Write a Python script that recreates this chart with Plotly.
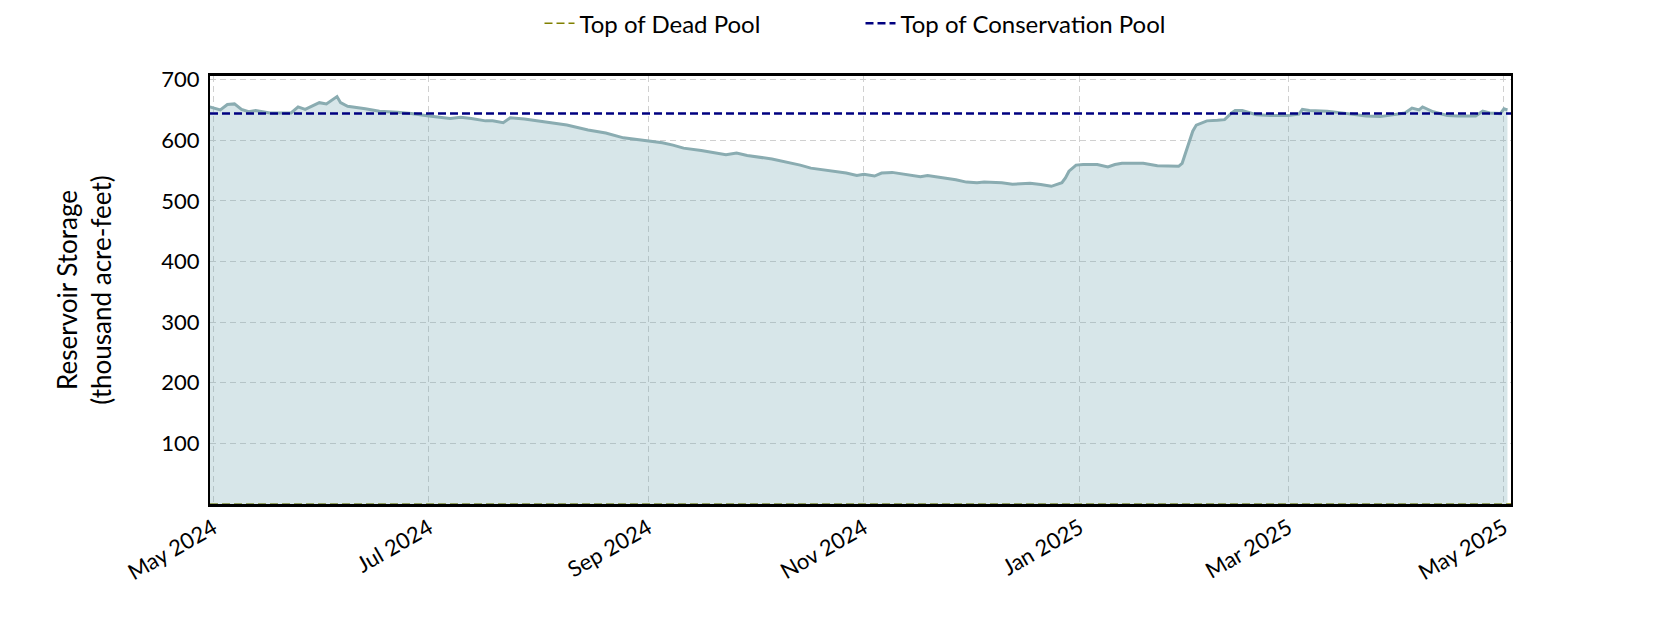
import plotly.graph_objects as go

# daily storage (thousand acre-feet)
dates = [
    '2024-04-30', '2024-05-03', '2024-05-05', '2024-05-07', '2024-05-09', '2024-05-11',
    '2024-05-13', '2024-05-17', '2024-05-23', '2024-05-25', '2024-05-27', '2024-05-29',
    '2024-05-31', '2024-06-02', '2024-06-05', '2024-06-06', '2024-06-08', '2024-06-13',
    '2024-06-17', '2024-06-22', '2024-06-26', '2024-07-01', '2024-07-07', '2024-07-10',
    '2024-07-13', '2024-07-17', '2024-07-19', '2024-07-22', '2024-07-24', '2024-07-28',
    '2024-08-03', '2024-08-09', '2024-08-15', '2024-08-20', '2024-08-25', '2024-08-30',
    '2024-09-05', '2024-09-08', '2024-09-11', '2024-09-16', '2024-09-23', '2024-09-26',
    '2024-09-29', '2024-10-06', '2024-10-13', '2024-10-14', '2024-10-17', '2024-10-22',
    '2024-10-27', '2024-10-30', '2024-11-01', '2024-11-04', '2024-11-06', '2024-11-09',
    '2024-11-13', '2024-11-17', '2024-11-19', '2024-11-25', '2024-11-27', '2024-11-30',
    '2024-12-03', '2024-12-05', '2024-12-10', '2024-12-13', '2024-12-18', '2024-12-21',
    '2024-12-24', '2024-12-27', '2024-12-28', '2024-12-29', '2024-12-31', '2025-01-02',
    '2025-01-06', '2025-01-09', '2025-01-11', '2025-01-13', '2025-01-19', '2025-01-23',
    '2025-01-26', '2025-01-29', '2025-01-30', '2025-01-31', '2025-02-01', '2025-02-02',
    '2025-02-03', '2025-02-06', '2025-02-09', '2025-02-11', '2025-02-13', '2025-02-14',
    '2025-02-16', '2025-02-18', '2025-02-20', '2025-02-24', '2025-03-01', '2025-03-04',
    '2025-03-05', '2025-03-07', '2025-03-12', '2025-03-15', '2025-03-19', '2025-03-23',
    '2025-03-27', '2025-03-31', '2025-04-03', '2025-04-05', '2025-04-07', '2025-04-08',
    '2025-04-11', '2025-04-15', '2025-04-18', '2025-04-23', '2025-04-25', '2025-04-27',
    '2025-04-30', '2025-05-01', '2025-05-02',
]
storage = [
    655, 650, 659, 660, 651, 647,
    649, 645, 645, 655, 651, 656,
    662, 660, 672, 662, 656, 652,
    648, 646, 644, 640, 636, 638,
    636, 632, 632, 629, 637, 635,
    630, 625, 617, 612, 604, 600,
    596, 592, 587, 583, 576, 579,
    575, 569, 561, 559, 554, 550,
    546, 542, 544, 541, 546, 547,
    543, 540, 542, 537, 535, 531,
    530, 531, 530, 527.5, 529, 527,
    524, 530, 538, 549, 559, 560,
    560, 556, 560, 562, 562, 558,
    557, 557, 562, 580, 600, 615,
    625, 632, 633, 634, 645, 649,
    649, 646, 642, 641, 641, 643,
    651, 649, 648, 646, 643, 640,
    639, 642, 645, 653, 650, 655,
    647, 641, 640, 640, 648, 645,
    644, 652, 650,
]

dead_pool = 0
conservation_pool = 644

x_range = ['2024-04-30 02:00', '2025-05-03']
tick_dates = ['2024-05-01', '2024-07-01', '2024-09-01', '2024-11-01',
              '2025-01-01', '2025-03-01', '2025-05-01']
tick_text = ['May 2024', 'Jul 2024', 'Sep 2024', 'Nov 2024',
             'Jan 2025', 'Mar 2025', 'May 2025']
y_ticks = [100, 200, 300, 400, 500, 600, 700]

FONT = 'Lato'

fig = go.Figure()

# dead pool sits on the bottom spine, only really visible in the legend
fig.add_trace(go.Scatter(
    x=x_range, y=[dead_pool, dead_pool], mode='lines',
    name='Top of Dead Pool',
    line=dict(color='#808000', width=1.5, dash='8px,4px'),
))
# translucent fill so the dashed grid still shows through
fig.add_trace(go.Scatter(
    x=dates, y=storage, mode='lines', fill='tozeroy',
    fillcolor='rgba(110,165,175,0.28)', line=dict(color='#8aacb1', width=3),
    showlegend=False, hoverinfo='x+y',
))
fig.add_trace(go.Scatter(
    x=x_range, y=[conservation_pool, conservation_pool], mode='lines',
    name='Top of Conservation Pool',
    line=dict(color='#000080', width=2.5, dash='8px,4px'),
))

fig.update_layout(
    width=1680, height=630,
    margin=dict(l=202, r=177, t=68, b=134),
    paper_bgcolor='white', plot_bgcolor='white',
    font=dict(family=FONT, size=22, color='black'),
    legend=dict(orientation='h', x=0.5, xanchor='center',
                yref='container', y=0.975, yanchor='middle',
                font=dict(size=24), entrywidth=276, bgcolor='rgba(0,0,0,0)'),
)

fig.update_xaxes(
    range=x_range, tickvals=tick_dates, ticktext=tick_text, tickangle=-30,
    showgrid=True, gridcolor='#d0d0d0', griddash='6px,4px', gridwidth=1.3,
    showline=True, linecolor='black', linewidth=2.5, mirror=True,
    ticks='', zeroline=False,
)
fig.update_yaxes(
    range=[0, 706], tickvals=y_ticks,
    showgrid=True, gridcolor='#d0d0d0', griddash='6px,4px', gridwidth=1.3,
    showline=True, linecolor='black', linewidth=2, mirror=True,
    ticks='', zeroline=False, ticklabelstandoff=4,
    title=dict(text='Reservoir Storage<br>(thousand acre-feet)', standoff=42),
)

fig.write_html('out.html')
